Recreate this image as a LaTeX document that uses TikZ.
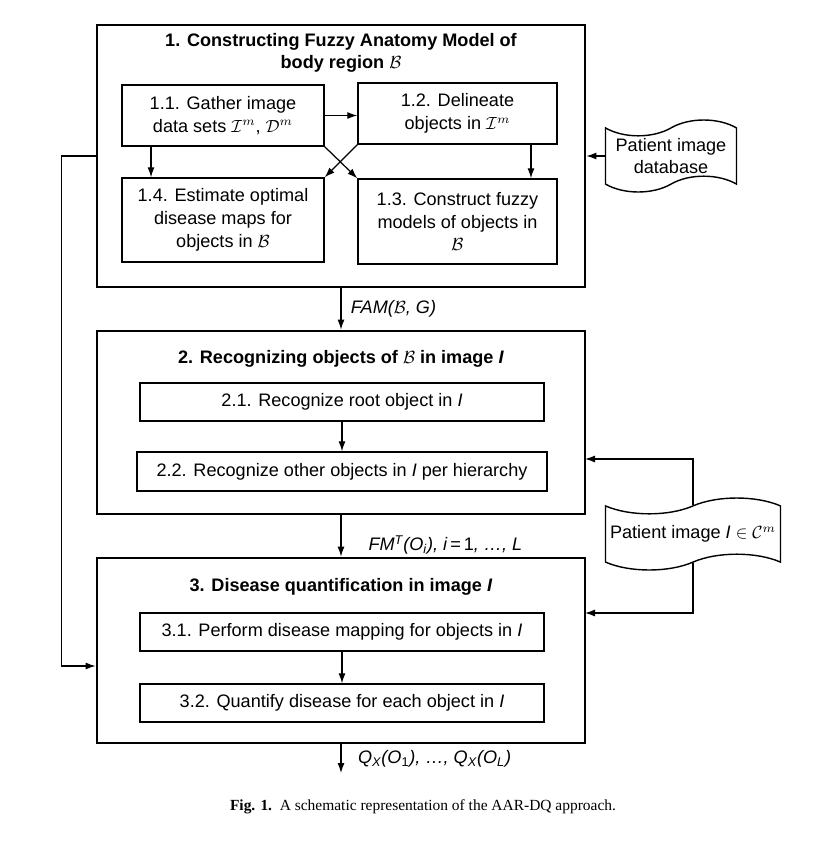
\documentclass[tikz,border=0pt]{standalone}
\usepackage{fontspec}
\setmainfont{Liberation Sans}
\newfontfamily\capfont{Liberation Serif}
\usetikzlibrary{arrows.meta,shapes.symbols}

\tikzset{
  stage/.style={draw, line width=1.6pt, minimum width=9.76cm},
  task/.style={draw, line width=0.8pt, align=center, inner sep=0pt,
    font=\fontsize{10.3}{13}\selectfont},
  heading/.style={align=center, font=\fontsize{10.3}{12.5}\selectfont\bfseries},
  store/.style={draw, tape, line width=0.8pt, align=center, inner sep=1pt,
    tape bend height=9pt, font=\fontsize{10.3}{13}\selectfont},
  flow/.style={-{Latex[length=2mm,width=1.4mm]}, line width=0.7pt},
  lbl/.style={font=\fontsize{10.3}{13}\selectfont\itshape}
}

\begin{document}
\begin{tikzpicture}[x=0.02cm, y=-0.02cm]
        \useasboundingbox (0,0) rectangle (814,859);

        % stage 1
        \node[stage, minimum height=5.24cm] (s1) at (341,156) {};
        \node[heading] (t1) at (341,53) {1. Constructing Fuzzy Anatomy Model of\\body region $\mathcal{B}$};
        \node[task, minimum width=4.04cm, minimum height=1.22cm] (s11) at (223,115.5) {1.1. Gather image\\data sets $\mathcal{I}^{m}$, $\mathcal{D}^{m}$};
        \node[task, minimum width=3.98cm, minimum height=1.22cm] (s12) at (457.5,113.5) {1.2. Delineate\\objects in $\mathcal{I}^{m}$};
        \node[task, minimum width=4.04cm, minimum height=1.68cm] (s14) at (223,220) {1.4. Estimate optimal\\disease maps for\\objects in $\mathcal{B}$};
        \node[task, minimum width=3.98cm, minimum height=1.7cm] (s13) at (457.5,221.5) {1.3. Construct fuzzy\\models of objects in\\$\mathcal{B}$};

        \path (s11.east) edge[flow] (s11.east -| s12.west);
        \path ([xshift=-1.44cm]s11.south) edge[flow] ([xshift=-1.44cm]s11.south |- s14.north);
        \path ([xshift=1.47cm]s12.south) edge[flow] ([xshift=1.47cm]s12.south |- s13.north);
        \path (s11.south east) edge[flow] (s13.north west);
        \path (s12.south west) edge[flow] (s14.north east);

        % stage 2
        \node[stage, minimum height=3.66cm] (s2) at (341,422.5) {};
        \node[heading] (t2) at (341,359) {2. Recognizing objects of $\mathcal{B}$ in image \textit{I}};
        \node[task, minimum width=8.08cm, minimum height=0.76cm] (s21) at (342,402) {2.1. Recognize root object in \textit{I}};
        \node[task, minimum width=8.2cm, minimum height=0.78cm] (s22) at (342,471.5) {2.2. Recognize other objects in \textit{I} per hierarchy};
        \path (s21) edge[flow] (s22);

        % stage 3
        \node[stage, minimum height=3.7cm] (s3) at (341,650.5) {};
        \node[heading] (t3) at (341,587) {3. Disease quantification in image \textit{I}};
        \node[task, minimum width=8.08cm, minimum height=0.76cm] (s31) at (342,632) {3.1. Perform disease mapping for objects in \textit{I}};
        \node[task, minimum width=8.08cm, minimum height=0.76cm] (s32) at (342,703) {3.2. Quantify disease for each object in \textit{I}};
        \path (s31) edge[flow] (s32);

        % between stages
        \path (s1.south) edge[flow] node[lbl, right, xshift=2pt] {FAM($\mathcal{B}$, G)} (s2.north);
        \path (s2.south) edge[flow] node[lbl, right, pos=0.72, xshift=12pt] {FM\textsuperscript{T}(O\textsubscript{i}), i\,=\,\textup{1}, \ldots, L} (s3.north);
        \coordinate (out) at (341,773);
        \path (s3.south) edge[flow] node[lbl, right, xshift=6pt] {Q\textsubscript{X}(O\textsubscript{\textup{1}}), \ldots, Q\textsubscript{X}(O\textsubscript{L})} (out);

        % patient data
        \node[store, minimum width=2.62cm, minimum height=1.44cm] (db) at (671,156) {Patient image\\database};
        \path (db.west) edge[flow] (db.west -| s1.east);

        \node[store, minimum width=3.5cm, minimum height=1.44cm] (pi) at (693,534) {Patient image \textit{I} $\in\mathcal{C}^{m}$};
        \coordinate (r2) at (585,459);
        \coordinate (r3) at (585,613);
        \draw[flow] (pi.north) |- (r2);
        \draw[flow] (pi.south) |- (r3);

        % feedback to stage 3
        \draw[flow] (s1.west) -- ++(-34,0) |- ([yshift=-0.31cm]s3.west);

        % caption
        \node[font=\capfont\fontsize{8.8}{10}\selectfont] (cap) at (423,807) {\textbf{Fig. 1.}\enspace A schematic representation of the AAR-DQ approach.};
      \end{tikzpicture}
\end{document}
